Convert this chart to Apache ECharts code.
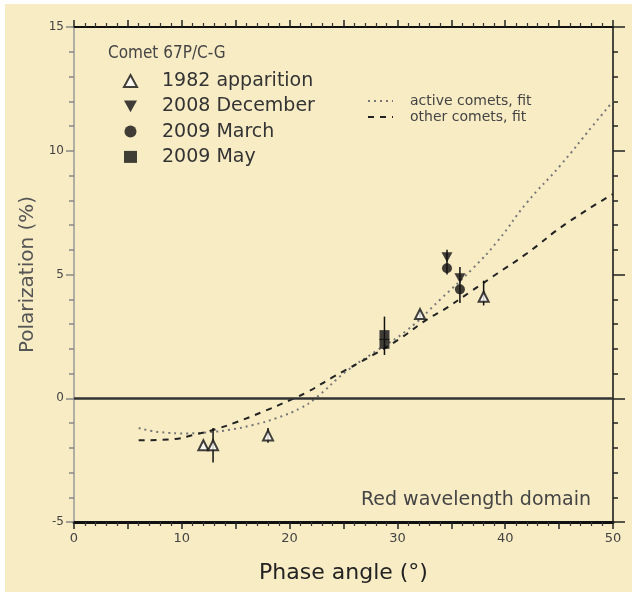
<!DOCTYPE html>
<html>
<head>
<meta charset="utf-8">
<script src="https://cdn.jsdelivr.net/npm/echarts@6/dist/echarts.min.js"></script>
<style>
  html, body { margin: 0; padding: 0; background: #ffffff; }
  #paper { position: absolute; left: 5px; top: 4px; width: 627px; height: 588px; background: #f8ecc5; }
  #main { position: absolute; left: 0; top: 0; width: 637px; height: 596px; }
</style>
</head>
<body>
<div id="paper"></div>
<div id="main"></div>
<script>
// observations of comet 67P/C-G, [phase angle, polarization]
const apparition1982 = [[12.0, -1.9], [12.9, -1.9], [18.0, -1.5], [32.1, 3.4], [38.0, 4.1]];
const december2008 = [[34.6, 5.7], [35.8, 4.85]];
const march2009 = [[34.6, 5.25], [35.8, 4.4]];
const may2009 = [[28.8, 2.55], [28.8, 2.2]];

// vertical error bars: [phase, upper, lower]
const errorBars = [
  [12.9, -1.2, -2.6], [18.0, -1.2, -1.8], [28.8, 3.3, 1.75], [32.1, 3.55, 3.25],
  [34.6, 6.0, 5.0], [35.8, 5.3, 3.85], [38.0, 4.75, 3.75]
];

// fitted curves
const activeFit = [
  [6, -1.2], [8, -1.37], [10.5, -1.42], [12.6, -1.37], [14.5, -1.27], [16.6, -1.08],
  [18.8, -0.8], [21, -0.4], [22.4, 0], [25.3, 1.1], [28, 1.9], [30.9, 2.75],
  [34, 4.0], [37, 5.25], [39.3, 6.35], [42, 7.9], [45.1, 9.4], [48.1, 11.0], [50, 12.0]
];
const otherFit = [
  [6, -1.7], [8.9, -1.66], [11.4, -1.45], [13.5, -1.2], [15.1, -0.96], [17.5, -0.55],
  [20, -0.08], [21.6, 0.24], [24, 0.85], [27.7, 1.74], [30.2, 2.4], [32.8, 3.2],
  [34.2, 3.55], [36.7, 4.28], [39.3, 5.05], [42, 5.85], [45.7, 7.07], [50, 8.25]
];

const xTicks = [0, 10, 20, 30, 40, 50];

const FONT = 'DejaVu Sans';
const downTri = 'path://M0,0L10,0L5,9Z';

const chart = echarts.init(document.getElementById('main'));

const option = {
  backgroundColor: 'transparent',
  animation: false,
  title: [
    {
      text: 'Comet 67P/C-G',
      left: 103, top: 40,
      textStyle: { fontFamily: 'DejaVu Sans Condensed, Liberation Sans', fontSize: 17, fontWeight: 'normal', color: '#444' }
    },
    {
      text: 'Red wavelength domain',
      right: 41, top: 486,
      textStyle: { fontFamily: FONT, fontSize: 19, fontWeight: 'normal', color: '#444' }
    }
  ],
  legend: [
    {
      data: ['1982 apparition', '2008 December', '2009 March', '2009 May'],
      orient: 'vertical',
      left: 118, top: 66,
      itemWidth: 13, itemHeight: 12, itemGap: 5.3,
      textStyle: { fontFamily: FONT, fontSize: 19, lineHeight: 20, color: '#333', padding: [0, 0, 0, 20] }
    },
    {
      data: ['active comets, fit', 'other comets, fit'],
      orient: 'vertical',
      left: 362, top: 89,
      itemWidth: 25, itemHeight: 10, itemGap: 2,
      itemStyle: { opacity: 0 },
      textStyle: { fontFamily: FONT, fontSize: 14, lineHeight: 14, color: '#444', padding: [0, 0, 0, 12] }
    }
  ],
  grid: { left: 74, right: 24, top: 27, bottom: 74 },
  xAxis: [
    {
      type: 'value', min: 0, max: 50, interval: 5,
      name: 'Phase angle (°)', nameLocation: 'middle', nameGap: 40,
      nameTextStyle: { fontFamily: FONT, fontSize: 22, color: '#222' },
      axisLine: { onZero: false, lineStyle: { color: '#111', width: 3 } },
      axisTick: { inside: false, length: 7, lineStyle: { color: '#222', width: 1.5 } },
      minorTick: { show: true, splitNumber: 5, length: 4, lineStyle: { color: '#333', width: 1.2 } },
      splitLine: { show: false },
      axisLabel: {
        fontFamily: FONT, fontSize: 13, color: '#444', margin: 10,
        formatter: v => (xTicks.includes(v) ? String(v) : '')
      }
    },
    {
      type: 'value', min: 0, max: 50, interval: 5, position: 'top',
      axisLine: { onZero: false, lineStyle: { color: '#111', width: 2 } },
      axisTick: { inside: false, length: 7, lineStyle: { color: '#222', width: 1.5 } },
      minorTick: { show: true, splitNumber: 5, length: 4, lineStyle: { color: '#333', width: 1.2 } },
      splitLine: { show: false },
      axisLabel: { show: false }
    }
  ],
  yAxis: [
    {
      type: 'value', min: -5, max: 15, interval: 5,
      name: 'Polarization (%)', nameLocation: 'middle', nameGap: 36,
      nameTextStyle: { fontFamily: FONT, fontSize: 20, color: '#555' },
      axisLine: { show: true, onZero: false, lineStyle: { color: '#999', width: 1.5 } },
      axisTick: { show: true, inside: false, length: 8, lineStyle: { color: '#888', width: 1.5 } },
      minorTick: { show: true, splitNumber: 5, length: 5, lineStyle: { color: '#888', width: 1.5 } },
      splitLine: { show: false },
      axisLabel: { fontFamily: FONT, fontSize: 12, color: '#444', margin: 10 }
    },
    {
      type: 'value', min: -5, max: 15, interval: 5, position: 'right',
      axisLine: { show: true, onZero: false, lineStyle: { color: '#111', width: 1.5 } },
      axisTick: { show: true, inside: false, length: 12, lineStyle: { color: '#222', width: 1.5 } },
      minorTick: { show: true, splitNumber: 5, length: 5, lineStyle: { color: '#222', width: 1.5 } },
      splitLine: { show: false },
      axisLabel: { show: false }
    }
  ],
  series: [
    {
      name: 'active comets, fit',
      type: 'line', smooth: true, showSymbol: false, symbol: 'none',
      data: activeFit,
      lineStyle: { color: '#777', width: 2, type: [2, 4] },
      itemStyle: { color: '#777' },
      z: 2
    },
    {
      name: 'other comets, fit',
      type: 'line', smooth: true, showSymbol: false, symbol: 'none',
      data: otherFit,
      lineStyle: { color: '#222', width: 2, type: [6, 6] },
      itemStyle: { color: '#222' },
      markLine: {
        silent: true, symbol: 'none', label: { show: false },
        lineStyle: { color: '#333', width: 2.5, type: 'solid' },
        data: [{ yAxis: 0 }]
      },
      z: 2
    },
    {
      name: 'errors',
      type: 'custom',
      data: errorBars,
      renderItem: (params, api) => {
        const top = api.coord([api.value(0), api.value(1)]);
        const bot = api.coord([api.value(0), api.value(2)]);
        return {
          type: 'line',
          shape: { x1: top[0], y1: top[1], x2: bot[0], y2: bot[1] },
          style: { stroke: '#111', lineWidth: 1.5 }
        };
      },
      z: 3
    },
    {
      name: '1982 apparition', type: 'scatter', data: apparition1982,
      symbol: 'emptyTriangle', symbolSize: 10,
      itemStyle: { color: '#111', borderColor: '#111', borderWidth: 1.8 }, z: 4
    },
    {
      name: '2008 December', type: 'scatter', data: december2008,
      symbol: downTri, symbolSize: [11, 10],
      itemStyle: { color: '#111' }, z: 4
    },
    {
      name: '2009 March', type: 'scatter', data: march2009,
      symbol: 'circle', symbolSize: 10,
      itemStyle: { color: '#111' }, z: 4
    },
    {
      name: '2009 May', type: 'scatter', data: may2009,
      symbol: 'rect', symbolSize: 10,
      itemStyle: { color: '#111' }, z: 4
    }
  ]
};

chart.setOption(option);
</script>
</body>
</html>
